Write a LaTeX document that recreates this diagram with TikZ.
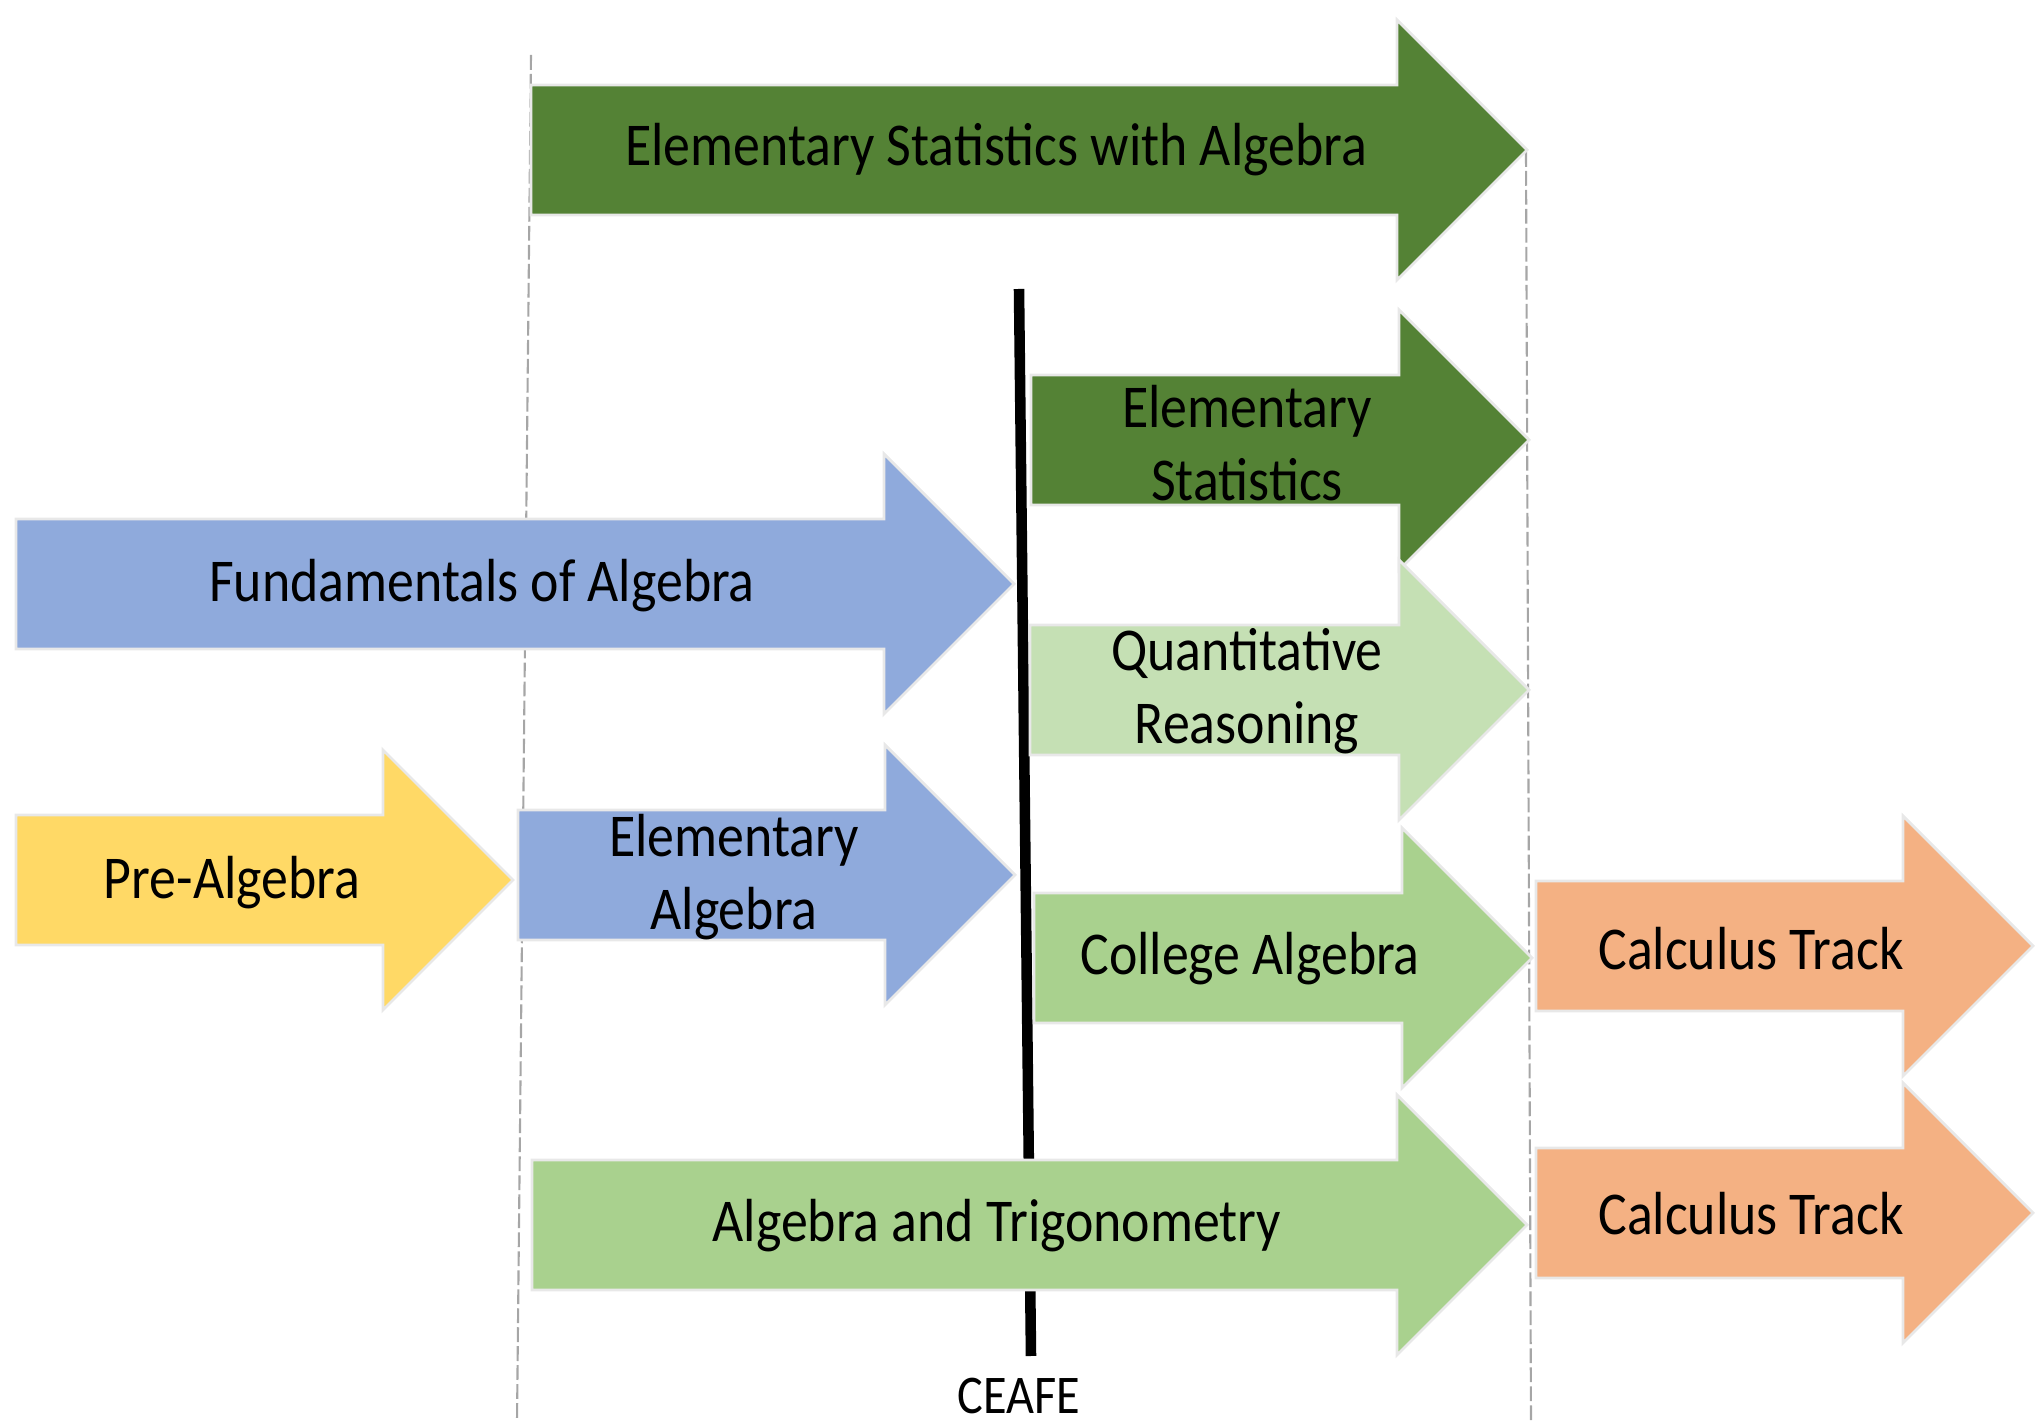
\documentclass[tikz,border=0pt]{standalone}
\usepackage{fontspec}
\setmainfont{Carlito}[FakeStretch=0.885]
\definecolor{statdark}{HTML}{548235}
\definecolor{qrlight}{HTML}{C5E0B4}
\definecolor{algmid}{HTML}{A9D18E}
\definecolor{fundblue}{HTML}{8FAADC}
\definecolor{preyellow}{HTML}{FFD966}
\definecolor{calcorange}{HTML}{F4B183}
\definecolor{edgegray}{HTML}{E8E8E8}
\definecolor{guidegray}{HTML}{A6A6A6}
\begin{document}
\begin{tikzpicture}[x=0.01cm, y=-0.01cm,
	course/.style={draw=edgegray, line width=0.8pt, line join=miter},
	label/.style={text=black, align=center, font=\fontsize{17.3}{20.6}\selectfont},
	guide/.style={draw=guidegray, line width=0.6pt, dash pattern=on 4.2pt off 1.2pt}]
	\useasboundingbox (0,0) rectangle (2041,1422);

	% guide lines and the CEAFE bar
	\draw[guide] (531,55) -- (517,1422);
	\draw[guide] (1526,152) -- (1531,1422);
	\coordinate (bar_top) at (1019,289);
	\coordinate (bar_bot) at (1031,1356);
	\draw[black, line width=3pt] (bar_top) -- (bar_bot);
	\node[label, font=\fontsize{15.5}{18}\selectfont, inner sep=0pt, anchor=base] (ceafe) at (1019,1414) {CEAFE};

	% arrows, top to bottom
	\path[course, fill=statdark] (531,150) ++(0,-65) -- ++(866,0) -- ++(0,-65) -- ++(130,130) -- ++(-130,130) -- ++(0,-65) -- ++(-866,0) -- cycle;
	\node[label] (a_statalg) at (996,150) {Elementary Statistics with Algebra};

	\path[course, fill=statdark] (1031,440) ++(0,-65) -- ++(368,0) -- ++(0,-65) -- ++(130,130) -- ++(-130,130) -- ++(0,-65) -- ++(-368,0) -- cycle;
	\node[label] (a_stat) at (1247,443) {Elementary\\Statistics};

	\path[course, fill=fundblue] (16,584) ++(0,-65) -- ++(868,0) -- ++(0,-65) -- ++(130,130) -- ++(-130,130) -- ++(0,-65) -- ++(-868,0) -- cycle;
	\node[label] (a_fund) at (482,586) {Fundamentals of Algebra};

	\path[course, fill=qrlight] (1030,690) ++(0,-65) -- ++(369,0) -- ++(0,-65) -- ++(130,130) -- ++(-130,130) -- ++(0,-65) -- ++(-369,0) -- cycle;
	\node[label] (a_qr) at (1247,691) {Quantitative\\Reasoning};

	\path[course, fill=preyellow] (16,880) ++(0,-65) -- ++(367,0) -- ++(0,-65) -- ++(130,130) -- ++(-130,130) -- ++(0,-65) -- ++(-367,0) -- cycle;
	\node[label] (a_pre) at (232,883) {Pre-Algebra};

	\path[course, fill=fundblue] (518,875) ++(0,-65) -- ++(367,0) -- ++(0,-65) -- ++(130,130) -- ++(-130,130) -- ++(0,-65) -- ++(-367,0) -- cycle;
	\node[label] (a_elem) at (734,877) {Elementary\\Algebra};

	\path[course, fill=algmid] (1034,958) ++(0,-65) -- ++(368,0) -- ++(0,-65) -- ++(130,130) -- ++(-130,130) -- ++(0,-65) -- ++(-368,0) -- cycle;
	\node[label] (a_coll) at (1250,959) {College Algebra};

	\path[course, fill=calcorange] (1536,946) ++(0,-65) -- ++(367,0) -- ++(0,-65) -- ++(130,130) -- ++(-130,130) -- ++(0,-65) -- ++(-367,0) -- cycle;
	\node[label] (a_calc1) at (1751,949) {Calculus Track};

	\path[course, fill=algmid] (532,1225) ++(0,-65) -- ++(865,0) -- ++(0,-65) -- ++(130,130) -- ++(-130,130) -- ++(0,-65) -- ++(-865,0) -- cycle;
	\node[label] (a_trig) at (997,1226) {Algebra and Trigonometry};

	\path[course, fill=calcorange] (1536,1213) ++(0,-65) -- ++(367,0) -- ++(0,-65) -- ++(130,130) -- ++(-130,130) -- ++(0,-65) -- ++(-367,0) -- cycle;
	\node[label] (a_calc2) at (1751,1214) {Calculus Track};
\end{tikzpicture}
\end{document}
